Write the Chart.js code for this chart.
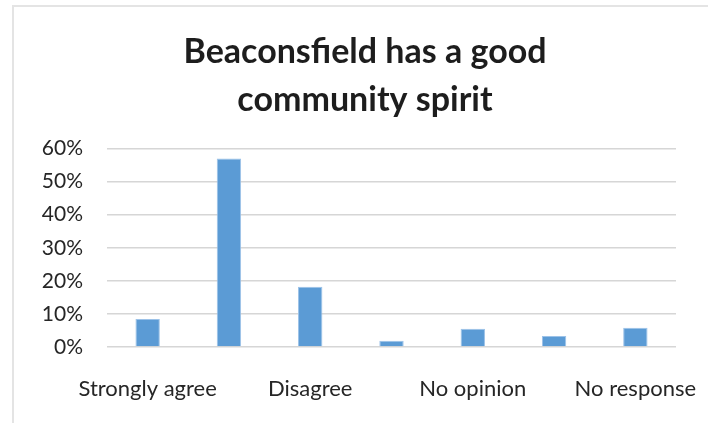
<!DOCTYPE html>
<html>
<head>
<meta charset="utf-8">
<title>Beaconsfield has a good community spirit</title>
<script src="https://cdn.jsdelivr.net/npm/chart.js"></script>
<style>
    html, body { margin: 0; padding: 0; background: #fff; overflow: hidden; }
    .wrap { position: relative; width: 708px; height: 423px; }
    .frame {
        position: absolute; left: 12px; top: 5px; right: -20px; bottom: -20px;
        border-left: 2px solid #e4e4e4; border-top: 2px solid #e4e4e4;
    }
    #spiritChart { position: absolute; left: 0; top: 0; }
</style>
</head>
<body>
<div class="wrap">
    <div class="frame"></div>
    <canvas id="spiritChart" width="708" height="423"></canvas>
</div>
<script>
// Survey answers and share of respondents (%)
const categories = ['Strongly agree', 'Agree', 'Disagree', 'Strongly disagree', 'No opinion', "Don't know", 'No response'];
const shares = [8.5, 57, 18.2, 1.9, 5.5, 3.3, 5.8];
const yTicks = [0, 10, 20, 30, 40, 50, 60];
const titleLines = ['Beaconsfield has a good', 'community spirit'];

const textColor = '#262626';
const gridColor = '#d6d6d6';

document.addEventListener('DOMContentLoaded', function() {
    const ctx = document.getElementById('spiritChart').getContext('2d');

    new Chart(ctx, {
        type: 'bar',
        data: {
            labels: categories,
            datasets: [{
                data: shares,
                backgroundColor: '#5b9bd5',
                borderColor: '#9cc2e8',
                borderWidth: 1,
                categoryPercentage: 1,
                barPercentage: 0.3
            }]
        },
        options: {
            responsive: false,
            animation: false,
            layout: {
                padding: { top: 0, left: 30, right: 8, bottom: 11 }
            },
            plugins: {
                legend: { display: false },
                tooltip: { enabled: false },
                title: {
                    display: true,
                    text: titleLines,
                    color: '#1d1d1d',
                    font: { family: 'Lato', size: 34, weight: 'bold', lineHeight: 1.42 },
                    padding: { top: 28, bottom: 24 }
                }
            },
            scales: {
                x: {
                    grid: { display: false, drawTicks: false },
                    border: { display: false },
                    // fixed height, and no extra room for the outer labels
                    afterFit: function(scale) {
                        scale.height = 65;
                        scale.paddingLeft = 0;
                        scale.paddingRight = 0;
                    },
                    ticks: {
                        autoSkip: false,
                        maxRotation: 0,
                        padding: 29,
                        color: textColor,
                        font: { family: 'Lato', size: 22 },
                        // only every other answer gets a label
                        callback: function(value, index) {
                            return index % 2 === 0 ? categories[index] : '';
                        }
                    }
                },
                y: {
                    min: yTicks[0],
                    max: yTicks[yTicks.length - 1],
                    afterFit: function(scale) { scale.width = 77; },
                    afterBuildTicks: function(scale) {
                        scale.ticks = yTicks.map(function(v) { return { value: v }; });
                    },
                    grid: { color: gridColor, lineWidth: 1.5, drawTicks: false },
                    border: { display: false },
                    ticks: {
                        padding: 24,
                        color: textColor,
                        font: { family: 'Lato', size: 21 },
                        callback: function(value) { return value + '%'; }
                    }
                },
                // empty axis that only reserves room on the right
                spacer: {
                    type: 'linear',
                    position: 'right',
                    display: true,
                    afterFit: function(scale) { scale.width = 24; },
                    grid: { display: false },
                    border: { display: false },
                    ticks: { display: false }
                }
            }
        }
    });
});
</script>
</body>
</html>
